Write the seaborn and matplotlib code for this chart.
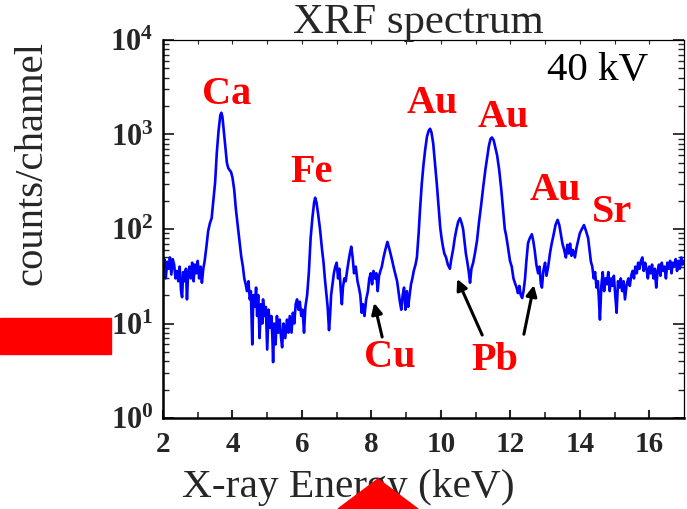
import numpy as np
import pandas as pd
import matplotlib
matplotlib.use("Agg")
import matplotlib.pyplot as plt
from matplotlib.ticker import FixedLocator, LogLocator, FuncFormatter, NullFormatter
from matplotlib.patches import Rectangle, Polygon
import seaborn as sns

# X-ray energy (keV) and measured counts per channel
energy_kev = [
    2.00, 2.04, 2.08, 2.12, 2.16, 2.20, 2.24, 2.28, 2.32, 2.36,
    2.40, 2.44, 2.48, 2.52, 2.55, 2.58, 2.62, 2.66, 2.69, 2.72,
    2.76, 2.80, 2.84, 2.88, 2.92, 2.96, 3.00, 3.04, 3.08, 3.12,
    3.16, 3.20, 3.25, 3.30, 3.35, 3.40, 3.45, 3.50, 3.55, 3.60,
    3.65, 3.68, 3.71, 3.75, 3.80, 3.84, 3.88, 3.92, 3.96, 4.00,
    4.05, 4.10, 4.15, 4.20, 4.25, 4.30, 4.34, 4.38, 4.42, 4.46,
    4.50, 4.53, 4.57, 4.60, 4.64, 4.68, 4.71, 4.74, 4.78, 4.82,
    4.86, 4.88, 4.92, 4.96, 5.00, 5.04, 5.08, 5.12, 5.15, 5.17,
    5.20, 5.24, 5.28, 5.32, 5.36, 5.40, 5.43, 5.47, 5.52, 5.57,
    5.61, 5.65, 5.70, 5.74, 5.78, 5.82, 5.86, 5.90, 5.94, 5.98,
    6.02, 6.06, 6.10, 6.15, 6.20, 6.25, 6.30, 6.35, 6.38, 6.42,
    6.46, 6.52, 6.58, 6.62, 6.66, 6.70, 6.74, 6.78, 6.81, 6.84,
    6.88, 6.92, 6.96, 7.00, 7.04, 7.08, 7.12, 7.15, 7.18, 7.22,
    7.26, 7.30, 7.34, 7.38, 7.42, 7.46, 7.50, 7.55, 7.60, 7.64,
    7.68, 7.72, 7.76, 7.80, 7.85, 7.90, 7.94, 7.98, 8.02, 8.06,
    8.10, 8.14, 8.18, 8.22, 8.26, 8.30, 8.35, 8.40, 8.46, 8.50,
    8.55, 8.60, 8.65, 8.70, 8.74, 8.78, 8.82, 8.86, 8.90, 8.94,
    8.98, 9.02, 9.06, 9.10, 9.14, 9.18, 9.22, 9.27, 9.31, 9.36,
    9.40, 9.45, 9.50, 9.55, 9.60, 9.65, 9.69, 9.73, 9.78, 9.83,
    9.88, 9.93, 9.98, 10.02, 10.06, 10.10, 10.15, 10.20, 10.26, 10.30,
    10.35, 10.40, 10.45, 10.50, 10.55, 10.60, 10.64, 10.68, 10.72, 10.76,
    10.80, 10.84, 10.88, 10.93, 10.98, 11.04, 11.10, 11.16, 11.22, 11.28,
    11.33, 11.38, 11.43, 11.47, 11.52, 11.57, 11.62, 11.68, 11.74, 11.79,
    11.84, 11.88, 11.93, 11.99, 12.04, 12.09, 12.13, 12.18, 12.22, 12.26,
    12.30, 12.34, 12.38, 12.42, 12.46, 12.51, 12.56, 12.62, 12.66, 12.70,
    12.75, 12.80, 12.84, 12.88, 12.91, 12.95, 13.00, 13.04, 13.09, 13.14,
    13.19, 13.24, 13.30, 13.36, 13.41, 13.46, 13.50, 13.55, 13.60, 13.64,
    13.68, 13.72, 13.76, 13.80, 13.86, 13.90, 13.95, 14.00, 14.06, 14.12,
    14.18, 14.24, 14.28, 14.32, 14.36, 14.40, 14.44, 14.48, 14.52, 14.55,
    14.58, 14.62, 14.66, 14.70, 14.74, 14.78, 14.82, 14.86, 14.90, 14.94,
    14.98, 15.02, 15.06, 15.10, 15.14, 15.18, 15.22, 15.26, 15.30, 15.35,
    15.40, 15.44, 15.48, 15.52, 15.56, 15.60, 15.64, 15.68, 15.72, 15.76,
    15.80, 15.84, 15.88, 15.92, 15.96, 16.00, 16.04, 16.08, 16.12, 16.16,
    16.20, 16.24, 16.28, 16.32, 16.36, 16.40, 16.44, 16.48, 16.52, 16.56,
    16.60, 16.64, 16.68, 16.72, 16.76, 16.80, 16.84, 16.88, 16.92, 16.96,
    17.00,
]
counts = [
    35, 48, 30, 45, 38, 50, 33, 48, 42, 30,
    36, 28, 40, 22, 19, 35, 28, 38, 18, 32,
    40, 30, 44, 28, 42, 34, 46, 30, 40, 27,
    38, 46, 65, 95, 115, 130, 200, 310, 650, 1100,
    1600, 1700, 1550, 1100, 700, 500, 440, 420, 400, 350,
    260, 160, 110, 75, 52, 40, 30, 26, 22, 28,
    18, 22, 6, 20, 15, 24, 12, 20, 7, 16,
    10, 18, 12, 15, 5.3, 14, 9, 12, 7, 3.9,
    10, 6, 12, 8, 11, 7, 5.6, 10, 7, 11,
    8, 12, 8, 13, 10, 16, 18, 14, 17, 12,
    14, 8, 15, 20, 35, 80, 130, 190, 214, 190,
    150, 100, 60, 45, 30, 21, 15, 8.5, 12, 20,
    26, 34, 40, 44, 30, 38, 22, 16, 24, 30,
    28, 36, 45, 55, 65, 50, 34, 40, 28, 24,
    20, 13, 16, 12, 18, 22, 30, 34, 26, 36,
    30, 34, 22, 32, 36, 40, 50, 60, 73, 65,
    55, 46, 38, 32, 28, 22, 17, 14, 20, 24,
    14, 22, 15, 20, 26, 30, 36, 42, 50, 90,
    160, 300, 480, 700, 950, 1100, 1150, 1050, 800, 500,
    310, 180, 105, 80, 65, 55, 50, 42, 38, 48,
    60, 80, 100, 120, 130, 115, 100, 75, 55, 45,
    36, 27, 38, 44, 55, 75, 120, 180, 280, 420,
    560, 750, 900, 930, 870, 720, 600, 420, 260, 160,
    100, 85, 65, 46, 40, 30, 27, 24, 21, 25,
    20, 18.6, 22, 29, 45, 71, 80, 88, 75, 60,
    42, 34, 40, 26, 24, 36, 44, 32, 40, 55,
    70, 85, 110, 125, 110, 85, 70, 60, 50, 68,
    55, 70, 52, 60, 50, 62, 75, 90, 100, 110,
    95, 80, 60, 45, 40, 30, 35, 24, 28, 18,
    11, 25, 35, 22, 30, 26, 35, 22, 30, 25,
    32, 20, 13, 28, 24, 30, 22, 28, 18, 26,
    30, 25, 32, 36, 30, 40, 34, 44, 38, 46,
    50, 36, 44, 38, 30, 40, 34, 42, 30, 38,
    24, 36, 42, 32, 44, 36, 40, 30, 44, 38,
    46, 34, 44, 40, 48, 36, 46, 38, 50, 42,
    46,
]

# Element labels (text, energy, counts)
peak_labels = ["Ca", "Fe", "Au", "Au", "Au", "Sr", "Cu", "Pb"]
peak_label_x = [3.84, 6.29, 9.75, 11.79, 13.29, 14.93, 8.54, 11.56]
peak_label_y = [2630, 400, 2150, 1500, 258, 148, 4.4, 4.1]

# Arrows pointing to weak lines: (tail energy, tail counts, head energy, head counts)
arrow_tail_x = [8.31, 11.19, 12.39]
arrow_tail_y = [7.2, 7.55, 7.7]
arrow_head_x = [8.08, 10.47, 12.68]
arrow_head_y = [16.5, 29.6, 25.5]

y_tick_values = [1, 10, 100, 1000, 10000]
x_tick_values = [2, 4, 6, 8, 10, 12, 14, 16]

sns.set_style("ticks")
plt.rcParams["font.family"] = ["Liberation Serif", "DejaVu Serif"]
plt.rcParams["mathtext.fontset"] = "custom"
plt.rcParams["mathtext.rm"] = "Liberation Serif"
plt.rcParams["mathtext.bf"] = "Liberation Serif:bold"

fig = plt.figure(figsize=(6.87, 5.09), dpi=100)
ax = fig.add_axes([163 / 687, 1 - 418 / 509, 521 / 687, 378 / 509])

df = pd.DataFrame({"energy": energy_kev, "counts": counts})
sns.lineplot(data=df, x="energy", y="counts", ax=ax, color="#0000ff",
             linewidth=1.9, estimator=None, sort=False)

ax.set_yscale("log")
ax.set_xlim(2, 17)
ax.set_ylim(1, 10000)
ax.set_xlabel("")
ax.set_ylabel("")

# Axis ticks
ax.xaxis.set_major_locator(FixedLocator(x_tick_values))
ax.xaxis.set_minor_locator(FixedLocator(np.arange(3, 17, 2)))
ax.xaxis.set_major_formatter(FuncFormatter(lambda v, p: f"{int(v)}"))
ax.yaxis.set_major_locator(FixedLocator(y_tick_values))
ax.yaxis.set_minor_locator(LogLocator(base=10, subs=np.arange(2, 10), numticks=20))
ax.yaxis.set_minor_formatter(NullFormatter())
ax.yaxis.set_major_formatter(
    FuncFormatter(lambda v, p: r"$\mathbf{10^{%d}}$" % int(round(np.log10(v)))))

ax.tick_params(axis="x", which="major", direction="in", length=6, width=1.5,
               bottom=True, top=False, pad=9, labelsize=21)
ax.tick_params(axis="x", which="minor", direction="in", length=4, width=1.2,
               bottom=True, top=False)
ax.tick_params(axis="y", which="major", direction="in", length=8, width=1.3,
               left=True, right=True, pad=7, labelsize=22)
ax.tick_params(axis="y", which="minor", direction="in", length=4, width=1.0,
               left=True, right=True)
for lbl in ax.get_xticklabels():
    lbl.set_fontweight("bold")

# Small ticks along the top edge at every keV
top = ax.secondary_xaxis("top")
top.set_xticks(np.arange(3, 17, 1))
top.tick_params(direction="in", length=3, width=0.8, labeltop=False)
top.spines["top"].set_visible(False)

for side in ["left", "bottom"]:
    ax.spines[side].set_linewidth(1.8)
for side in ["top", "right"]:
    ax.spines[side].set_linewidth(0.9)
for s in ax.spines.values():
    s.set_color("black")

# Element labels
for txt, x, y in zip(peak_labels, peak_label_x, peak_label_y):
    ax.text(x, y, txt, color="#ff0000", fontsize=29, fontweight="bold",
            ha="center", va="center")

ax.text(14.5, 4800, "40 kV", fontsize=29.5, ha="center", va="center", color="black")

for tx, ty, hx, hy in zip(arrow_tail_x, arrow_tail_y, arrow_head_x, arrow_head_y):
    ax.annotate("", xy=(hx, hy), xytext=(tx, ty),
                arrowprops=dict(arrowstyle="-|>", color="black", lw=2.2,
                                mutation_scale=16, shrinkA=0, shrinkB=0))

# Titles and axis labels
fig.text(418 / 687, 1 - 33 / 509, "XRF spectrum", fontsize=30.8,
         ha="center", va="baseline")
fig.text(32 / 687, 1 - 163 / 509, "counts/channel", fontsize=29.3,
         rotation=90, ha="center", va="center")
fig.text(348 / 687, 1 - 497 / 509, "X-ray Energy (keV)", fontsize=29.8,
         ha="center", va="baseline")

# Red markers on the figure edges
fig.patches.append(Rectangle((0, 1 - 354 / 509), 111 / 687, 36 / 509,
                             transform=fig.transFigure, color="#ff0000",
                             zorder=10))
fig.patches.append(Polygon([(338 / 687, 0), (378 / 687, 1 - 479 / 509),
                            (418 / 687, 0)], closed=True,
                           transform=fig.transFigure, color="#ff0000",
                           zorder=10))

fig.savefig("out.png", dpi=100)
